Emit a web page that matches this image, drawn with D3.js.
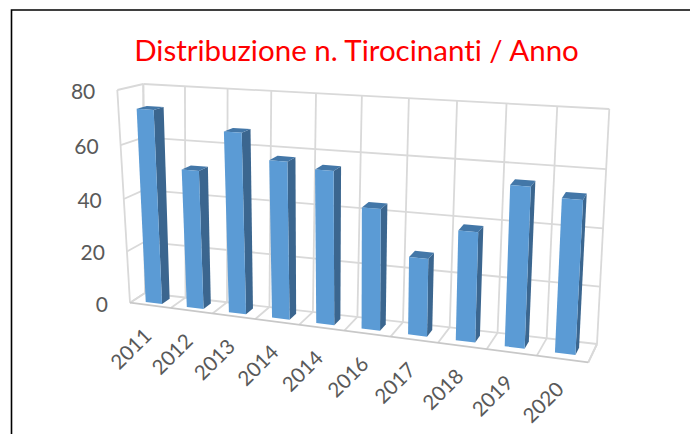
<!DOCTYPE html>
<html><head><meta charset="utf-8">
<script src="https://cdn.jsdelivr.net/npm/d3@7"></script>
<style>html,body{margin:0;padding:0;background:#fff;overflow:hidden}svg{display:block}text{font-family:Lato,sans-serif;font-variant-ligatures:none}</style>
</head><body><svg id="c" width="690" height="434"></svg>
<script>
const titleText = "Distribuzione n. Tirocinanti / Anno";
const categories = ["2011","2012","2013","2014","2014","2016","2017","2018","2019","2020"];
const values = [73,52,67,58,56,44,28,39,56,53];
const valueTicks = [0,20,40,60,80];

// Pixel corners of the chart's 3D box: [bottom-left, bottom-right, top-right, top-left]
const frontPlane = [[130,302.7],[588.3,362.3],[601,122],[117.3,90]];
const backPlane  = [[145,293],[597,344],[609.3,109],[143.3,84]];

function homography(q){
  const [[x0,y0],[x1,y1],[x2,y2],[x3,y3]] = q;
  const dx1=x1-x2,dx2=x3-x2,sx=x0-x1+x2-x3,dy1=y1-y2,dy2=y3-y2,sy=y0-y1+y2-y3;
  const det=dx1*dy2-dx2*dy1;
  const g=(sx*dy2-dx2*sy)/det,h=(dx1*sy-sx*dy1)/det;
  const a=x1-x0+g*x1,b=x3-x0+h*x3,d=y1-y0+g*y1,e=y3-y0+h*y3;
  return (u,v)=>{const k=g*u+h*v+1;return [(a*u+b*v+x0)/k,(d*u+e*v+y0)/k];};
}
const front=homography(frontPlane), back=homography(backPlane);
const project=(u,v,w)=>{const f=front(u,v),b=back(u,v);return [f[0]+(b[0]-f[0])*w,f[1]+(b[1]-f[1])*w];};

const idx=d3.range(categories.length);
const uBand=d3.scaleBand().domain(idx).range([0,1]).paddingInner(0.6).paddingOuter(0.3).align(0.5);
const cell=d3.scaleLinear().domain([0,categories.length]).range([0,1]);
const vScale=d3.scaleLinear().domain([0,80]).range([0,1]);

// Depth of a bar face inside the box; the box's projection narrows it toward the top and right.
const halfDepth=(u,v)=>0.2+0.06*(1-u)*(1-v);
const midDepth=(u,v)=>0.5-0.08*(1-u)*v;
const barPt=(u,v,side)=>project(u,v,midDepth(u,v)+side*halfDepth(u,v));

const svg=d3.select("#c");
const line=d3.line();
const closed=d3.line().curve(d3.curveLinearClosed);

svg.append("path").attr("d","M11.5,434V10H690").attr("fill","none").attr("stroke","#000").attr("stroke-width",1.6);

svg.append("text").attr("x",356.5).attr("y",61).attr("text-anchor","middle")
  .attr("font-size",29.5).attr("fill","#FF0000").text(titleText);

const grid=svg.append("g").attr("fill","none").attr("stroke","#D9D9D9").attr("stroke-width",1.8);
const seg=(a,b)=>grid.append("path").attr("d",line([a,b]));
valueTicks.forEach(t=>{
  const v=vScale(t);
  seg(project(0,v,0),project(0,v,1));
  seg(project(0,v,1),project(1,v,1));
});
d3.range(categories.length+1).forEach(i=>{
  const u=cell(i);
  seg(project(u,0,0),project(u,0,1));
  seg(project(u,0,1),project(u,1,1));
});
seg(project(0,0,0),project(0,1,0));
seg(project(0,0,1),project(0,1,1));
seg(project(1,0,1),project(1,0,0));
grid.append("path").attr("d",line([project(0,0,0),project(1,0,0)])).attr("stroke","#C8C8C8");

const bars=svg.append("g");
idx.forEach(i=>{
  const u0=uBand(i),u1=u0+uBand.bandwidth(),v=vScale(values[i]);
  const g=bars.append("g");
  g.append("path").attr("d",closed([barPt(u1,0,-1),barPt(u1,0,1),barPt(u1,v,1),barPt(u1,v,-1)])).attr("fill","#3B668F");
  g.append("path").attr("d",closed([barPt(u0,v,-1),barPt(u1,v,-1),barPt(u1,v,1),barPt(u0,v,1)])).attr("fill","#4377A8");
  g.append("path").attr("d",closed([barPt(u0,0,-1),barPt(u1,0,-1),barPt(u1,v,-1),barPt(u0,v,-1)])).attr("fill","#5B9BD5");
});

const yLab=svg.append("g").attr("font-size",21).attr("fill","#595959").attr("text-anchor","end");
valueTicks.forEach(t=>{
  const p=project(0,vScale(t),0);
  yLab.append("text").attr("x",p[0]-22).attr("y",p[1]+3.5).attr("dominant-baseline","middle").text(t);
});
const xLab=svg.append("g").attr("font-size",20.5).attr("fill","#595959").attr("text-anchor","end");
idx.forEach(i=>{
  const p=project((i+0.5)/categories.length,0,0);
  xLab.append("text").attr("transform",`translate(${p[0]-1},${p[1]+28}) rotate(-45)`).attr("dominant-baseline","middle").text(categories[i]);
});
</script></body></html>
